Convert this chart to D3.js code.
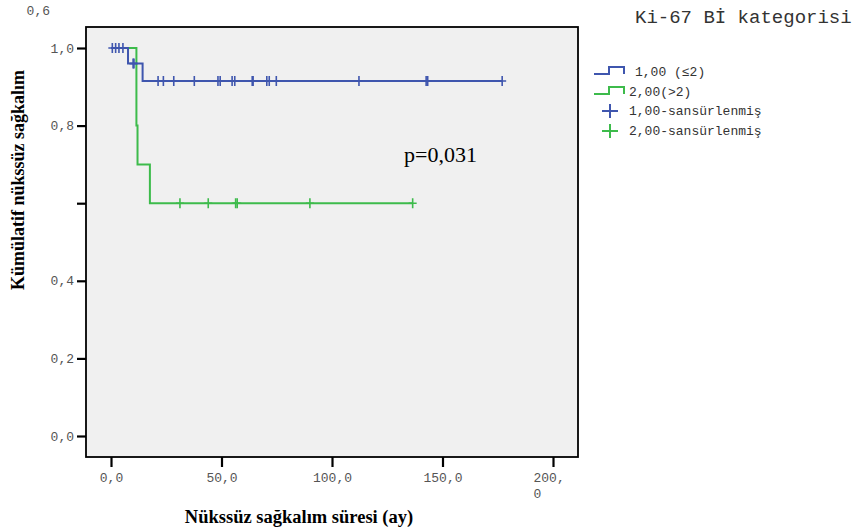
<!DOCTYPE html>
<html>
<head>
<meta charset="utf-8">
<script src="https://cdn.jsdelivr.net/npm/d3@7"></script>
<style>
  body { margin: 0; background: #fff; }
  svg { display: block; }
</style>
</head>
<body>
<script>
// chart data
var yTicks = [0, 0.2, 0.4, 0.6, 0.8, 1.0];
var xTicks = [0, 50, 100, 150, 200];

// group 1 (Ki-67 <= 2)
var g1StepTimes = [0, 7.7, 14.3];
var g1StepSurv = [1.0, 0.96, 0.915];
var g1End = 177;
var g1Censored = [0.6, 2.1, 3.6, 5.4, 10, 10.4, 21.3, 23.7, 28.4, 37.7, 48.4, 49.4, 54.8, 56.0, 63.9, 64.3, 70.5, 71.6, 74.8, 112.2, 142.6, 143.3, 177];

// group 2 (Ki-67 > 2)
var g2StepTimes = [0, 11.5, 12, 17.6];
var g2StepSurv = [1.0, 0.8, 0.7, 0.6];
var g2End = 136.5;
var g2Censored = [31.2, 44.0, 56.4, 57.1, 90.0, 136.5];

var legendLabels = ["1,00 (\u22642)", "2,00(>2)", "1,00-sansürlenmiş", "2,00-sansürlenmiş"];

var w = 868, h = 531;
var blue = "#3f56ae", green = "#3dbb4b";

var svg = d3.select("body").append("svg")
    .attr("width", w)
    .attr("height", h);

// plot area
var pLeft = 86, pTop = 27, pRight = 578, pBottom = 457;

var x = d3.scaleLinear().domain([0, 200]).range([111, 553]);
var y = d3.scaleLinear().domain([0, 1]).range([436, 48]);

svg.append("rect")
    .attr("x", pLeft).attr("y", pTop)
    .attr("width", pRight - pLeft).attr("height", pBottom - pTop)
    .attr("fill", "#f0f0f0")
    .attr("stroke", "#000")
    .attr("stroke-width", 1.8);

// build step path from step arrays
function stepPath(times, surv, end) {
  var pts = [];
  for (var i = 0; i < times.length; i++) {
    if (i > 0) pts.push([times[i], surv[i - 1]]);
    pts.push([times[i], surv[i]]);
  }
  pts.push([end, surv[surv.length - 1]]);
  return d3.line().x(function(d) { return x(d[0]); }).y(function(d) { return y(d[1]); })(pts);
}

function survAt(times, surv, t) {
  var s = surv[0];
  for (var i = 0; i < times.length; i++) if (times[i] <= t) s = surv[i];
  return s;
}

function drawGroup(times, surv, end, cens, col) {
  svg.append("path")
      .attr("d", stepPath(times, surv, end))
      .attr("fill", "none")
      .attr("stroke", col)
      .attr("stroke-width", 2);
  svg.append("g").selectAll("path")
    .data(cens)
    .enter().append("path")
      .attr("d", function(t) {
        var cx = x(t), cy = y(survAt(times, surv, t));
        return "M" + (cx - 4) + "," + cy + "H" + (cx + 4) + "M" + cx + "," + (cy - 5) + "V" + (cy + 5);
      })
      .attr("stroke", col)
      .attr("stroke-width", 1.6)
      .attr("fill", "none");
}

// green first so blue draws over it
drawGroup(g2StepTimes, g2StepSurv, g2End, g2Censored, green);
drawGroup(g1StepTimes, g1StepSurv, g1End, g1Censored, blue);

// axes
var fmt = function(d) { return d3.format(".1f")(d).replace(".", ","); };

var yAxis = svg.append("g")
    .attr("transform", "translate(" + pLeft + ",0)")
    .call(d3.axisLeft(y).tickValues(yTicks).tickSize(9).tickPadding(3).tickFormat(fmt));
yAxis.select(".domain").remove();
yAxis.selectAll("line").attr("stroke", "#000").attr("stroke-width", 2.2);
yAxis.selectAll("text")
    .attr("font-family", "'Liberation Mono', monospace")
    .attr("font-size", 13)
    .attr("fill", "#555");
// the 0,6 label sits up in the corner in the original
yAxis.selectAll(".tick").filter(function(d) { return d === 0.6; }).select("text")
    .attr("x", -36)
    .attr("y", 10 - y(0.6));

var xAxis = svg.append("g")
    .attr("transform", "translate(0," + pBottom + ")")
    .call(d3.axisBottom(x).tickValues(xTicks).tickSize(10).tickPadding(6).tickFormat(fmt));
xAxis.select(".domain").remove();
xAxis.selectAll("line").attr("stroke", "#000").attr("stroke-width", 2.2);
xAxis.selectAll("text")
    .attr("font-family", "'Liberation Mono', monospace")
    .attr("font-size", 13)
    .attr("fill", "#555");
// 200,0 wraps onto two lines
var last = xAxis.selectAll(".tick").filter(function(d) { return d === 200; }).select("text");
last.text(null).attr("text-anchor", "start").attr("x", -20);
last.append("tspan").attr("x", -20).text("200,");
last.append("tspan").attr("x", -20).attr("dy", 16).text("0");

// axis titles
svg.append("text")
    .attr("x", 299)
    .attr("y", 523)
    .attr("text-anchor", "middle")
    .attr("font-family", "'Liberation Serif', serif")
    .attr("font-weight", "bold")
    .attr("font-size", 18.5)
    .text("Nükssüz sağkalım süresi (ay)");

svg.append("text")
    .attr("transform", "translate(24,180) rotate(-90)")
    .attr("text-anchor", "middle")
    .attr("font-family", "'Liberation Serif', serif")
    .attr("font-weight", "bold")
    .attr("font-size", 18)
    .text("Kümülatif nükssüz sağkalım");

// p value
svg.append("text")
    .attr("x", 404)
    .attr("y", 162)
    .attr("font-family", "'Liberation Serif', serif")
    .attr("font-size", 22)
    .text("p=0,031");

// legend
svg.append("text")
    .attr("x", 635)
    .attr("y", 23)
    .attr("font-family", "'Liberation Mono', monospace")
    .attr("font-size", 19)
    .attr("fill", "#333")
    .text("Ki-67 Bİ kategorisi");

var legY = [72, 92, 111, 131];
var legCols = [blue, green, blue, green];
var legX = [635, 629, 629, 629];

var leg = svg.append("g");
legendLabels.forEach(function(lab, i) {
  var cy = legY[i];
  if (i < 2) {
    leg.append("path")
        .attr("d", "M594," + (cy + 2) + "H609V" + (cy - 5) + "H624V" + (cy + 2))
        .attr("fill", "none")
        .attr("stroke", legCols[i])
        .attr("stroke-width", 2);
  } else {
    leg.append("path")
        .attr("d", "M602," + cy + "H618M610," + (cy - 7) + "V" + (cy + 7))
        .attr("stroke", legCols[i])
        .attr("stroke-width", 2);
  }
  leg.append("text")
      .attr("x", legX[i])
      .attr("y", cy + 4)
      .attr("font-family", "'Liberation Mono', monospace")
      .attr("font-size", 13)
      .attr("fill", "#333")
      .text(lab);
});
</script>
</body>
</html>
